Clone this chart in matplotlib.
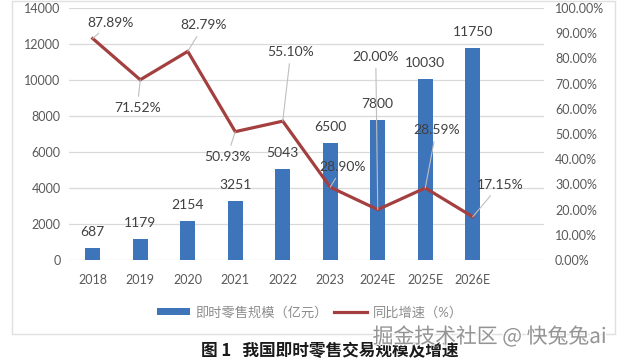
import matplotlib
matplotlib.use("Agg")
import matplotlib.pyplot as plt
from matplotlib.patches import Patch, Rectangle
from matplotlib.lines import Line2D
import matplotlib.patheffects as pe
from matplotlib.ticker import FuncFormatter

plt.rcParams['font.family'] = ['Lato', 'Noto Sans CJK SC', 'DejaVu Sans']

categories = ['2018', '2019', '2020', '2021', '2022', '2023', '2024E', '2025E', '2026E']
scale_values = [687, 1179, 2154, 3251, 5043, 6500, 7800, 10030, 11750]
growth_pct = [87.89, 71.52, 82.79, 50.93, 55.10, 28.90, 20.00, 28.59, 17.15]
left_ticks = [0, 2000, 4000, 6000, 8000, 10000, 12000, 14000]
right_ticks = [0, 10, 20, 30, 40, 50, 60, 70, 80, 90, 100]
bar_label = '即时零售规模（亿元）'
line_label = '同比增速（%）'
title_text = '图 1   我国即时零售交易规模及增速'
watermark = '掘金技术社区 @ 快兔兔ai'

# label offsets in pixels (dx, dy) for growth labels
pct_offsets = [(18, 16), (-3, -28), (16, 26), (-8, -25), (8, 69), (12, 20), (-2, 153), (11, 58), (27, 32)]

BAR_C = '#3E74BA'
LINE_C = '#A43F3F'
TXT = '#404040'
TICK = '#595959'
GRID = '#D9D9D9'

fig = plt.figure(figsize=(6.2, 3.63), dpi=100)
fig.patch.set_facecolor('white')
ax = fig.add_axes([69/620, 1-260/363, 475/620, 252/363])
ax2 = ax.twinx()

x = list(range(len(categories)))
ax.bar(x, scale_values, width=0.32, color=BAR_C, zorder=2)
ax.set_xlim(-0.5, 9.5)
ax.set_ylim(0, 14000)
ax.set_yticks(left_ticks)
ax.set_xticks(x)
ax.set_xticklabels(categories)
ax.yaxis.grid(True, color=GRID, lw=0.9, zorder=0)
ax.set_axisbelow(True)
for s in ax.spines.values():
    s.set_visible(False)
for s in ax2.spines.values():
    s.set_visible(False)
ax.tick_params(axis='x', length=0, pad=10, labelsize=9, labelcolor=TICK)
ax.tick_params(axis='y', length=0, pad=6, labelsize=9, labelcolor=TICK)

for xi, v in zip(x, scale_values):
    ax.annotate(str(v), (xi, v), xytext=(0, 16), textcoords='offset pixels',
                ha='center', va='center', fontsize=10, color=TXT, zorder=5)

ax2.set_ylim(0, 100)
ax2.set_yticks(right_ticks)
ax2.yaxis.set_major_formatter(FuncFormatter(lambda v, p: f'{v:.2f}%'))
ax2.tick_params(axis='y', length=0, pad=8, labelsize=9, labelcolor=TICK)
ax2.plot(x, growth_pct, color=LINE_C, lw=2.3, zorder=3, solid_joinstyle='miter')
for xi, v, (dx, dy) in zip(x, growth_pct, pct_offsets):
    ax2.annotate(f'{v:.2f}%', (xi, v), xytext=(dx, dy), textcoords='offset pixels',
                 ha='center', va='center', fontsize=10, color=TXT, zorder=6,
                 arrowprops=dict(arrowstyle='-', color='#BFBFBF', lw=0.8,
                                 shrinkA=2, shrinkB=0))

handles = [Patch(facecolor=BAR_C, edgecolor='none'),
           Line2D([0], [0], color=LINE_C, lw=2.3)]
leg = fig.legend(handles, [bar_label, line_label], loc='center',
                 bbox_to_anchor=(310/620, 1-312/363), ncol=2, frameon=False,
                 fontsize=9.5, handlelength=2.5, handleheight=0.5,
                 columnspacing=0.5, handletextpad=0.4)
for t in leg.get_texts():
    t.set_color('#8C8C8C')

fig.add_artist(Rectangle((12/620, 1-334/363), 603/620, 333/363, transform=fig.transFigure,
                         fill=False, edgecolor='#E0E0E0', lw=1))

fig.text(330/620, 1-351/363, title_text, ha='center', va='center', fontsize=12,
         fontweight='bold', color='#1A1A1A', family=['Noto Sans CJK SC', 'DejaVu Sans'])
fig.text(607/620, 1-337/363, watermark, ha='right', va='center', fontsize=15,
         color='#8A8A8A', alpha=0.9, family=['Noto Sans CJK SC', 'DejaVu Sans'],
         path_effects=[pe.withStroke(linewidth=2, foreground='white')])

fig.savefig('out.png', dpi=100, facecolor='white')
